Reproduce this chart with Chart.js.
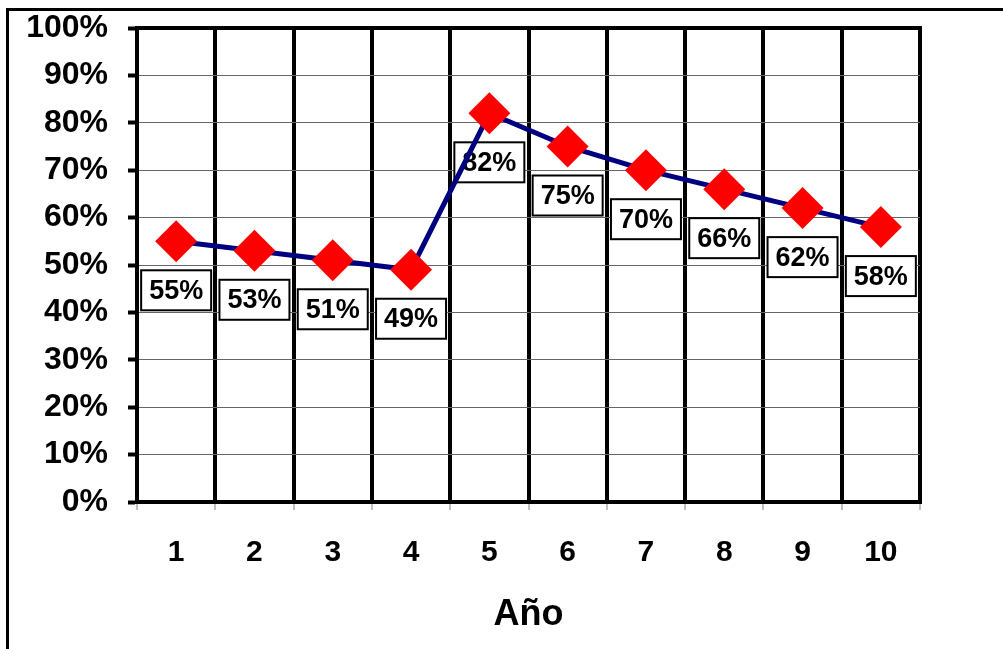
<!DOCTYPE html>
<html>
<head>
<meta charset="utf-8">
<script src="https://cdn.jsdelivr.net/npm/chart.js@4"></script>
<style>
  body { margin: 0; background: #fff; }
  #wrap { position: relative; width: 1003px; height: 649px; }
  #frame { position: absolute; left: 6px; top: 8px; right: 0; bottom: 0;
           border-top: 3px solid #000; border-left: 3px solid #000; }
  canvas { position: absolute; left: 0; top: 0; }
</style>
</head>
<body>
<div id="wrap">
  <div id="frame"></div>
  <canvas id="chart" width="1003" height="649"></canvas>
</div>
<script>
// data
const years = ['1', '2', '3', '4', '5', '6', '7', '8', '9', '10'];
const rates = [55, 53, 51, 49, 82, 75, 70, 66, 62, 58];
const yTicks = [0, 10, 20, 30, 40, 50, 60, 70, 80, 90, 100];

const FONT = "'Liberation Sans', Arial, sans-serif";

// boxed value labels under each point + thick top border of plot
const boxLabels = {
  id: 'boxLabels',
  beforeDatasetsDraw(chart) {
    const ctx = chart.ctx;
    const area = chart.chartArea;
    ctx.save();
    ctx.strokeStyle = '#000';
    ctx.lineWidth = 4;
    ctx.beginPath();
    ctx.moveTo(area.left - 2, area.top);
    ctx.lineTo(area.right + 2, area.top);
    ctx.stroke();

    const meta = chart.getDatasetMeta(0);
    ctx.font = 'bold 27px ' + FONT;
    ctx.textAlign = 'center';
    ctx.textBaseline = 'middle';
    meta.data.forEach((pt, i) => {
      const cx = pt.x, cy = pt.y + 49;
      const w = 70, h = 40;
      ctx.fillStyle = '#fff';
      ctx.fillRect(cx - w / 2, cy - h / 2, w, h);
      ctx.lineWidth = 2;
      ctx.strokeStyle = '#000';
      ctx.strokeRect(cx - w / 2, cy - h / 2, w, h);
      ctx.fillStyle = '#000';
      ctx.fillText(rates[i] + '%', cx, cy + 1);
    });
    ctx.restore();
  }
};

new Chart(document.getElementById('chart'), {
  type: 'line',
  data: {
    labels: years,
    datasets: [{
      data: rates,
      borderColor: '#000080',
      borderWidth: 5,
      tension: 0,
      pointStyle: 'rectRot',
      pointRadius: 21,
      pointHoverRadius: 21,
      pointBackgroundColor: '#ff0000',
      pointBorderWidth: 0
    }]
  },
  options: {
    responsive: false,
    animation: false,
    layout: { padding: { top: 28, right: 83, left: 0, bottom: 0 } },
    plugins: { legend: { display: false }, tooltip: { enabled: false } },
    scales: {
      x: {
        offset: true,
        afterFit: s => { s.height = 147; s.paddingLeft = 0; s.paddingRight = 0; },
        grid: { offset: true, color: '#000', lineWidth: 4, tickLength: 8, tickWidth: 1, tickColor: '#808080' },
        border: { display: true, color: '#000', width: 4 },
        ticks: { color: '#000', font: { family: FONT, size: 30, weight: 'bold' }, padding: 25 },
        title: { display: true, text: 'Año', color: '#000', font: { family: FONT, size: 36, weight: 'bold' }, padding: { top: 12, bottom: 12 } }
      },
      y: {
        min: 0,
        max: 100,
        afterFit: s => { s.width = 137; s.paddingTop = 0; s.paddingBottom = 0; },
        afterBuildTicks: s => { s.ticks = yTicks.map(v => ({ value: v })); },
        grid: { color: '#666', lineWidth: 1, tickLength: 9, tickWidth: 4, tickColor: '#000' },
        border: { display: true, color: '#000', width: 4 },
        ticks: { color: '#000', font: { family: FONT, size: 32, weight: 'bold' }, padding: 20, callback: v => v + '%' }
      }
    }
  },
  plugins: [boxLabels]
});
</script>
</body>
</html>
